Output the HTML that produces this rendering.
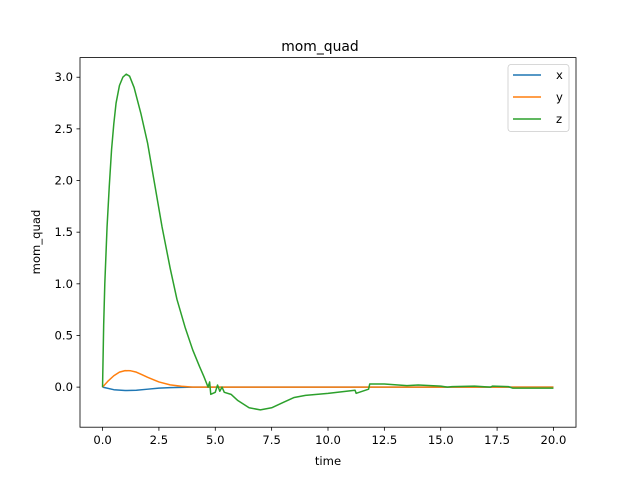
<!DOCTYPE html>
<html><head><meta charset="utf-8"><style>
body{margin:0;background:#fff;}
svg{font-family:"DejaVu Sans","Liberation Sans",sans-serif;}
</style></head><body>
<svg id="chart" width="640" height="480" xmlns="http://www.w3.org/2000/svg">
<rect width="640" height="480" fill="#fff"/>
<g id="plot"></g>
</svg>
<script>
const xTicks=[0,2.5,5,7.5,10,12.5,15,17.5,20];
const xTickLabels=["0.0","2.5","5.0","7.5","10.0","12.5","15.0","17.5","20.0"];
const yTicks=[0,0.5,1,1.5,2,2.5,3];
const yTickLabels=["0.0","0.5","1.0","1.5","2.0","2.5","3.0"];
const seriesNames=["x","y","z"];
const xT=[0,0.5,1,1.5,2,2.5,3,4,20];
const xV=[0,-0.025,-0.033,-0.03,-0.02,-0.01,-0.005,0,0];
const yT=[0,0.25,0.5,0.75,1,1.25,1.5,1.75,2,2.5,3,3.5,4,20];
const yV=[0,0.06,0.11,0.145,0.16,0.158,0.145,0.12,0.095,0.05,0.022,0.008,0,0];
const zT=[0,0.05,0.1,0.2,0.3,0.4,0.5,0.6,0.75,0.9,1.05,1.2,1.4,1.7,2.0,2.3,2.64,3.0,3.3,3.66,4.0,4.3,4.5,4.68,4.75,4.8,5.0,5.1,5.2,5.3,5.4,5.7,6.0,6.5,7.0,7.5,8.0,8.5,9.0,10,11.2,11.25,11.8,11.85,12.5,13.5,14,15,15.3,15.5,16.5,17.2,17.3,18,18.2,20];
const zV=[0,0.6,1.0,1.55,1.95,2.3,2.55,2.75,2.92,3.0,3.03,3.01,2.9,2.65,2.36,1.98,1.55,1.15,0.85,0.58,0.36,0.2,0.1,0.0,0.05,-0.07,-0.05,0.02,-0.04,0.0,-0.05,-0.07,-0.13,-0.2,-0.22,-0.2,-0.15,-0.1,-0.08,-0.06,-0.03,-0.06,-0.02,0.03,0.03,0.015,0.02,0.01,0,0.005,0.01,0,0.01,0.005,-0.01,-0.01];
const L=80,R=576,T=57.6,B=427.2,xmin=-1,xmax=21,ymin=-0.388,ymax=3.19;
const sx=v=>L+(v-xmin)/(xmax-xmin)*(R-L);
const sy=v=>B-(v-ymin)/(ymax-ymin)*(B-T);
const NS="http://www.w3.org/2000/svg";
const g=document.getElementById('plot');
function mk(tag,attrs,parent){const e=document.createElementNS(NS,tag);for(const k in attrs)e.setAttribute(k,attrs[k]);(parent||g).appendChild(e);return e;}
const colors=["#1f77b4","#ff7f0e","#2ca02c"];
const data=[[xT,xV],[yT,yV],[zT,zV]];
data.forEach((d,i)=>{
 const p=mk('polyline',{points:d[0].map((t,j)=>sx(t)+','+sy(d[1][j])).join(' '),fill:'none',stroke:colors[i],'stroke-width':1.5,'stroke-linejoin':'round'});
 
 
});
const frame=mk('rect',{x:L,y:T,width:R-L,height:B-T,fill:'none',stroke:'#000','stroke-width':0.8});


xTicks.forEach((v,i)=>{
 mk('line',{x1:sx(v),x2:sx(v),y1:B,y2:B+3.5,stroke:'#000','stroke-width':0.8});
 const t=mk('text',{x:sx(v),y:B+17,'font-size':11.6,'text-anchor':'middle'});t.textContent=xTickLabels[i];
 
 
});
yTicks.forEach((v,i)=>{
 mk('line',{x1:L-3.5,x2:L,y1:sy(v),y2:sy(v),stroke:'#000','stroke-width':0.8});
 const t=mk('text',{x:L-7,y:sy(v)+4,'font-size':11.6,'text-anchor':'end'});t.textContent=yTickLabels[i];
 
 
});
let t=mk('text',{x:320,y:51,'font-size':13.9,'text-anchor':'middle'});t.textContent='mom_quad';


t=mk('text',{x:328,y:465,'font-size':11.6,'text-anchor':'middle'});t.textContent='time';


t=mk('text',{x:40,y:242,'font-size':11.6,'text-anchor':'middle',transform:'rotate(-90 40 242)'});t.textContent='mom_quad';


const lg=mk('rect',{x:508,y:64.5,width:61,height:67,fill:'#fff',stroke:'#ccc','stroke-width':0.8,rx:3});


seriesNames.forEach((n,i)=>{
 const y=75+i*22;
 mk('line',{x1:513,x2:541,y1:y,y2:y,stroke:colors[i],'stroke-width':1.5});
 const e=mk('text',{x:556,y:y+4,'font-size':11.6});e.textContent=n;
 
 
});
</script>
</body></html>
